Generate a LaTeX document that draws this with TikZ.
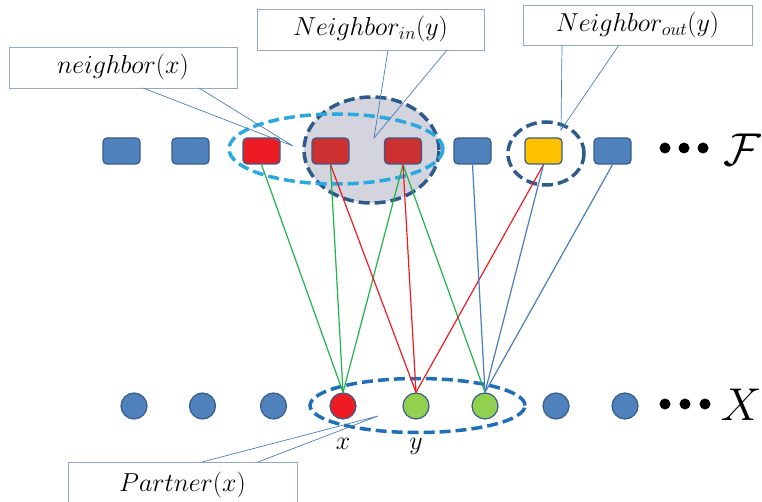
\RequirePackage{fix-cm}
\documentclass[tikz,border=0pt]{standalone}
\usetikzlibrary{shapes.geometric}
\definecolor{boxblue}{HTML}{4F81BD}
\definecolor{edgeblue}{HTML}{385D8A}
\definecolor{bred}{HTML}{ED1C24}
\definecolor{dred}{HTML}{CC3030}
\definecolor{byellow}{HTML}{FFC000}
\definecolor{bgreen}{HTML}{92D050}
\definecolor{lgreen}{HTML}{22B14C}
\definecolor{lred}{HTML}{ED1C24}
\definecolor{lblue}{HTML}{4A7EBB}
\definecolor{cyanb}{HTML}{2AA8E0}
\definecolor{darkdash}{HTML}{2F5A8C}
\definecolor{grayfill}{HTML}{D3D4DE}
\definecolor{midblue}{HTML}{1F6EB8}
\definecolor{callborder}{HTML}{8FAACC}
\begin{document}
\begin{tikzpicture}[x=1pt,y=-1pt,
 fnode/.style={draw=edgeblue, line width=1.2pt, rounded corners=4pt, minimum width=37pt, minimum height=26pt, inner sep=0pt},
 xnode/.style={circle, draw=edgeblue, line width=1.2pt, minimum size=26pt, inner sep=0pt},
 dotnode/.style={circle, fill=black, minimum size=11pt, inner sep=0pt},
 callbox/.style={draw=callborder, line width=0.8pt, fill=white, inner sep=0pt},
 ptr/.style={draw=lblue, line width=0.7pt},
 lbl/.style={font=\fontsize{26}{30}\selectfont},
 conn/.style={line width=1.2pt},
 dashring/.style={ellipse, dash pattern=on 11pt off 5pt, line width=3.5pt, inner sep=0pt}]
\useasboundingbox (0,0) rectangle (762,502);
% group ellipses
\node[dashring, fill=grayfill, draw=darkdash, minimum width=135pt, minimum height=106pt] (nin) at (371.5,150) {};
\node[dashring, draw=cyanb, minimum width=214pt, minimum height=70pt] (nx) at (336,149) {};
\node[dashring, draw=darkdash, minimum width=76pt, minimum height=63pt] (nout) at (546,153.5) {};
\node[dashring, draw=midblue, minimum width=215pt, minimum height=54pt] (part) at (417.5,405.5) {};
% F row
\node[fnode, fill=boxblue] (f1) at (121.5,151) {};
\node[fnode, fill=boxblue] (f2) at (190.5,151) {};
\node[fnode, fill=bred] (f3) at (261.5,151) {};
\node[fnode, fill=dred] (f4) at (330.5,151) {};
\node[fnode, fill=dred] (f5) at (403,151) {};
\node[fnode, fill=boxblue] (f6) at (472.5,151) {};
\node[fnode, fill=byellow] (f7) at (543.5,151) {};
\node[fnode, fill=boxblue] (f8) at (612.5,151) {};
\node[dotnode] (fd1) at (665,148) {};
\node[dotnode] (fd2) at (684,148) {};
\node[dotnode] (fd3) at (703,148) {};
\node[font=\fontsize{46}{50}\selectfont] (flab) at (742,150) {$\mathcal{F}$};
% X row
\node[xnode, fill=boxblue] (x1) at (134,406) {};
\node[xnode, fill=boxblue] (x2) at (202.5,406) {};
\node[xnode, fill=boxblue] (x3) at (273.5,406) {};
\node[xnode, fill=bred] (x4) at (343,406) {};
\node[xnode, fill=bgreen] (x5) at (416,406) {};
\node[xnode, fill=bgreen] (x6) at (485,406) {};
\node[xnode, fill=boxblue] (x7) at (556,406) {};
\node[xnode, fill=boxblue] (x8) at (625,406) {};
\node[dotnode] (xd1) at (665,404) {};
\node[dotnode] (xd2) at (685,404) {};
\node[dotnode] (xd3) at (705,404) {};
\node[font=\fontsize{46}{50}\selectfont] (xlab) at (741,405) {$X$};
\node[lbl] (xname) at (343,444) {$x$};
\node[lbl] (yname) at (416,446) {$y$};
% connectors
\draw[conn, lgreen] (f3.south) -- (x4.north);
\draw[conn, lgreen] (f4.south) -- (x4.north);
\draw[conn, lgreen] (f5.south) -- (x4.north);
\draw[conn, lgreen] (f5.south) -- (x6.north);
\draw[conn, lred] (f4.south) -- (x5.north);
\draw[conn, lred] (f5.south) -- (x5.north);
\draw[conn, lred] (f7.south) -- (x5.north);
\draw[conn, lblue] (f6.south) -- (x6.north);
\draw[conn, lblue] (f7.south) -- (x6.north);
\draw[conn, lblue] (f8.south) -- (x6.north);
% callouts
\node[callbox, lbl, minimum width=228pt, minimum height=41pt] (c1) at (123,67.5) {$neighbor(x)$};
\node[callbox, lbl, minimum width=227pt, minimum height=41pt] (c2) at (370.5,29.5) {$Neighbor_{in}(y)$};
\node[callbox, lbl, minimum width=229pt, minimum height=40pt] (c3) at (637.5,25) {$Neighbor_{out}(y)$};
\node[callbox, lbl, minimum width=229pt, minimum height=46pt] (c4) at (182.5,485) {$Partner(x)$};
\coordinate (a1) at (143,88);  \coordinate (b1) at (199,88);  \coordinate (t1) at (293,146);
\coordinate (a2) at (388,50);  \coordinate (b2) at (447,50);  \coordinate (t2) at (374,138);
\coordinate (a3) at (562,45);  \coordinate (b3) at (619,45);  \coordinate (t3) at (561,130);
\coordinate (a4) at (202,462); \coordinate (b4) at (258,462); \coordinate (t4) at (378,416);
\draw[ptr] (a1) -- (t1) -- (b1);
\draw[ptr] (a2) -- (t2) -- (b2);
\draw[ptr] (a3) -- (t3) -- (b3);
\draw[ptr] (a4) -- (t4) -- (b4);
\end{tikzpicture}
\end{document}
